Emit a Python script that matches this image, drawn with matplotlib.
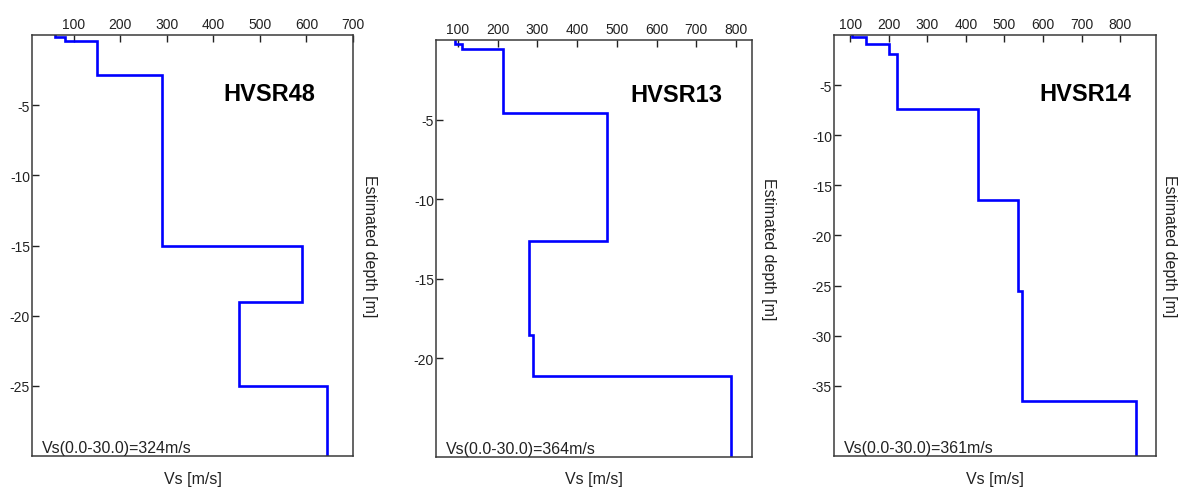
import numpy as np
import matplotlib.pyplot as plt

plt.rcParams['font.family'] = ['Liberation Sans', 'DejaVu Sans']

# Layer tops (depth, m) and shear wave velocity (m/s) for each site
names = ['HVSR48', 'HVSR13', 'HVSR14']
vs30_text = ['Vs(0.0-30.0)=324m/s', 'Vs(0.0-30.0)=364m/s', 'Vs(0.0-30.0)=361m/s']

tops_48 = [0, 0.15, 0.45, 2.85, 15, 19, 25]
vs_48 = [60, 80, 150, 290, 590, 455, 645]

tops_13 = [0, 0.25, 0.57, 4.6, 12.6, 18.55, 21.1]
vs_13 = [92, 110, 213, 475, 279, 289, 788]

tops_14 = [0, 0.23, 0.9, 1.9, 7.4, 16.5, 25.5, 36.5]
vs_14 = [105, 141, 201, 222, 432, 535, 545, 841]

# plot range of each panel
max_depth = [30, 26.2, 42]
x_limits = [(10, 700), (45, 840), (58, 893)]
x_ticks = [range(100, 701, 100), range(100, 801, 100), range(100, 801, 100)]
y_ticks = [[-5, -10, -15, -20, -25], [-5, -10, -15, -20], [-5, -10, -15, -20, -25, -30, -35]]

profiles = [(tops_48, vs_48), (tops_13, vs_13), (tops_14, vs_14)]

W, H = 1179, 489
# axes boxes in pixels: left, right, top, bottom
boxes = [(32, 353, 36, 457), (436, 752, 41, 458), (834, 1156, 36, 457)]
label_x = [370, 768, 1170]
name_pos = [(0.738, 0.86), (0.76, 0.87), (0.78, 0.86)]

fig = plt.figure(figsize=(W / 100, H / 100), dpi=100)

for i in range(3):
    l, r, t, b = boxes[i]
    ax = fig.add_axes([l / W, (H - b) / H, (r - l) / W, (b - t) / H])
    tops, vs = profiles[i]
    bottoms = list(tops[1:]) + [max_depth[i]]
    x = np.repeat(vs, 2)
    y = -np.column_stack([tops, bottoms]).ravel()
    ax.plot(x, y, color='#0000ff', lw=1.9, solid_joinstyle='miter')

    ax.set_xlim(*x_limits[i])
    ax.set_ylim(-max_depth[i], 0)
    ax.xaxis.tick_top()
    ax.set_xticks(list(x_ticks[i]))
    ax.set_yticks(y_ticks[i])
    ax.set_yticklabels([str(v) for v in y_ticks[i]])
    ax.tick_params(axis='x', direction='in', length=5, width=1, pad=3, labelsize=10,
                   colors='#222222', top=True, bottom=False)
    ax.tick_params(axis='y', direction='in', length=5, width=1, pad=1.5, labelsize=10,
                   colors='#222222', left=True, right=False)
    for s in ax.spines.values():
        s.set_color('#3a3a3a')
        s.set_linewidth(1.1)

    ax.text(name_pos[i][0], name_pos[i][1], names[i], transform=ax.transAxes,
            ha='center', va='center', fontsize=17, fontweight='bold', color='black')
    ax.text(0.031, 0.01, vs30_text[i], transform=ax.transAxes, ha='left',
            va='baseline', fontsize=11.5, color='#222222')

    fig.text((l + r) / 2 / W, 1 - 480 / H, 'Vs [m/s]', ha='center', va='center',
             fontsize=11.5, color='#222222')
    fig.text(label_x[i] / W, 1 - (t + b) / 2 / H, 'Estimated depth [m]', rotation=270,
             ha='center', va='center', fontsize=11.5, color='#222222')

fig.savefig('out.png', dpi=100)
